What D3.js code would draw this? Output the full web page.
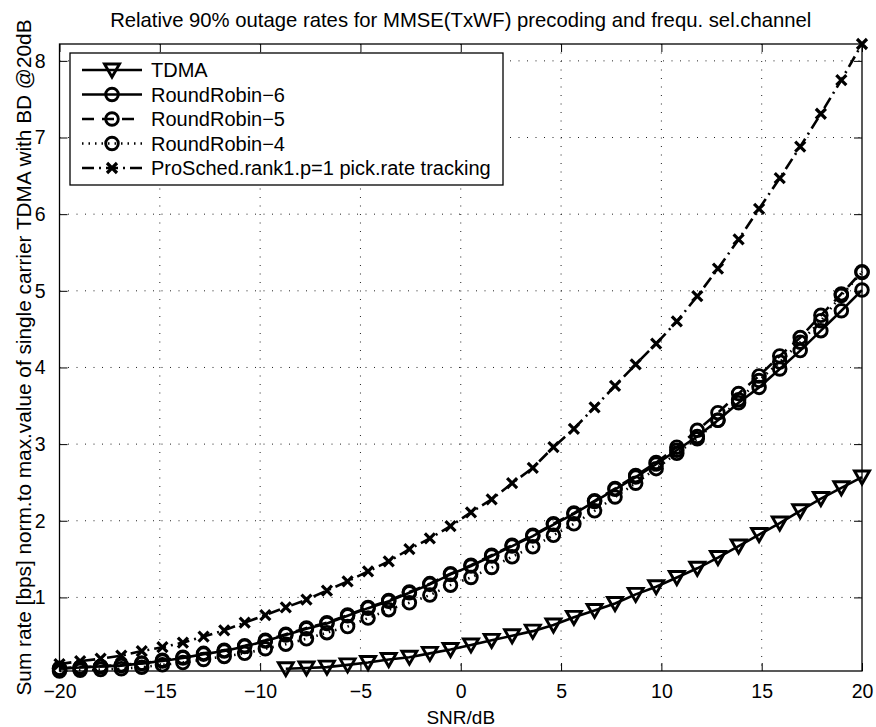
<!DOCTYPE html>
<html>
<head>
<meta charset="utf-8">
<script src="https://cdn.jsdelivr.net/npm/d3@7"></script>
<style>
  body { margin: 0; background: #fff; }
  text { font-family: "Liberation Sans", Arial, Helvetica, sans-serif; fill: #000; }
</style>
</head>
<body>
<script>
// SNR points (dB)
var snr = [-20, -18.97, -17.95, -16.92, -15.90, -14.87, -13.85, -12.82, -11.79, -10.77,
  -9.74, -8.72, -7.69, -6.67, -5.64, -4.62, -3.59, -2.56, -1.54, -0.51,
  0.51, 1.54, 2.56, 3.59, 4.62, 5.64, 6.67, 7.69, 8.72, 9.74,
  10.77, 11.79, 12.82, 13.85, 14.87, 15.90, 16.92, 17.95, 18.97, 20];

// series values (null = not plotted)
var tdma = [null, null, null, null, null, null, null, null, null, null,
  null, 0.07, 0.08, 0.09, 0.12, 0.15, 0.19, 0.22, 0.27, 0.32,
  0.38, 0.44, 0.50, 0.56, 0.64, 0.74, 0.83, 0.92, 1.04, 1.14,
  1.26, 1.38, 1.52, 1.67, 1.82, 1.97, 2.13, 2.29, 2.43, 2.57];

var rr6 = [0.07, 0.085, 0.10, 0.11, 0.14, 0.17, 0.21, 0.26, 0.30, 0.36,
  0.43, 0.51, 0.59, 0.66, 0.76, 0.86, 0.95, 1.06, 1.17, 1.30,
  1.41, 1.54, 1.67, 1.80, 1.95, 2.09, 2.25, 2.41, 2.57, 2.74,
  2.92, 3.10, 3.31, 3.54, 3.74, 3.98, 4.22, 4.48, 4.74, 5.01];

var rr5 = [0.075, 0.09, 0.10, 0.12, 0.14, 0.18, 0.22, 0.27, 0.31, 0.37,
  0.44, 0.52, 0.60, 0.67, 0.77, 0.87, 0.96, 1.07, 1.18, 1.31,
  1.42, 1.55, 1.68, 1.81, 1.96, 2.10, 2.26, 2.42, 2.59, 2.76,
  2.96, 3.18, 3.41, 3.66, 3.89, 4.15, 4.39, 4.68, 4.96, 5.25];

var rr4 = [0.04, 0.05, 0.06, 0.07, 0.09, 0.12, 0.15, 0.19, 0.23, 0.27,
  0.33, 0.39, 0.46, 0.54, 0.62, 0.73, 0.84, 0.93, 1.03, 1.16,
  1.26, 1.39, 1.53, 1.66, 1.81, 1.96, 2.13, 2.31, 2.49, 2.68,
  2.88, 3.07, 3.31, 3.58, 3.83, 4.07, 4.33, 4.61, 4.94, 5.24];

var prosched = [0.13, 0.17, 0.20, 0.24, 0.30, 0.35, 0.41, 0.49, 0.57, 0.67,
  0.77, 0.87, 0.97, 1.09, 1.21, 1.34, 1.47, 1.63, 1.77, 1.93,
  2.11, 2.28, 2.49, 2.69, 2.96, 3.20, 3.48, 3.76, 4.04, 4.31,
  4.60, 4.93, 5.29, 5.67, 6.07, 6.47, 6.88, 7.31, 7.75, 8.22];

var seriesNames = ["TDMA", "RoundRobin\u22126", "RoundRobin\u22125", "RoundRobin\u22124",
  "ProSched.rank1.p=1 pick.rate tracking"];
var xTicks = [-20, -15, -10, -5, 0, 5, 10, 15, 20];
var yTicks = [1, 2, 3, 4, 5, 6, 7, 8];

var titleText = "Relative 90% outage rates for MMSE(TxWF) precoding and frequ. sel.channel";
var xLabel = "SNR/dB";
var yLabel = "Sum rate [bps] norm.to max.value of single carrier TDMA with BD @20dB";

// canvas
var width = 876, height = 727;
var plot = { left: 59.5, right: 862, top: 44, bottom: 671 };

var svg = d3.select("body").append("svg")
  .attr("width", width)
  .attr("height", height);

var x = d3.scaleLinear().domain([-20, 20]).range([plot.left, plot.right]);
var y = d3.scaleLinear().domain([0.04, 8.22]).range([plot.bottom, plot.top]);

// grid
var grid = svg.append("g").attr("class", "grid");
grid.selectAll("line.gx").data(xTicks.slice(1, -1)).enter().append("line")
  .attr("x1", d => x(d)).attr("x2", d => x(d))
  .attr("y1", plot.top).attr("y2", plot.bottom);
grid.selectAll("line.gy").data(yTicks).enter().append("line")
  .attr("x1", plot.left).attr("x2", plot.right)
  .attr("y1", d => y(d)).attr("y2", d => y(d));
grid.selectAll("line")
  .style("stroke", "#222")
  .style("stroke-width", 1)
  .style("stroke-dasharray", "1,7.5");

// axes (ticks inside, box)
var tickLen = 8;
var xAxisB = d3.axisBottom(x).tickValues(xTicks).tickSizeInner(-tickLen).tickSizeOuter(0)
  .tickFormat(d => d < 0 ? "\u2212" + Math.abs(d) : d).tickPadding(13);
var xAxisT = d3.axisTop(x).tickValues(xTicks).tickSizeInner(-tickLen).tickSizeOuter(0).tickFormat("");
var yAxisL = d3.axisLeft(y).tickValues(yTicks).tickSizeInner(-tickLen).tickSizeOuter(0).tickPadding(14);
var yAxisR = d3.axisRight(y).tickValues(yTicks).tickSizeInner(-tickLen).tickSizeOuter(0).tickFormat("");

svg.append("g").attr("transform", "translate(0," + plot.bottom + ")").call(xAxisB);
svg.append("g").attr("transform", "translate(0," + plot.top + ")").call(xAxisT);
svg.append("g").attr("transform", "translate(" + plot.left + ",0)").call(yAxisL);
svg.append("g").attr("transform", "translate(" + plot.right + ",0)").call(yAxisR);

svg.selectAll(".domain").remove();
svg.selectAll(".tick line").style("stroke", "#000").style("stroke-width", 1);
svg.selectAll(".tick text").style("font-size", "19.5px").style("fill", "#000")
  .style("font-family", "'Liberation Sans', Arial, sans-serif");

svg.append("rect")
  .attr("x", plot.left).attr("y", plot.top)
  .attr("width", plot.right - plot.left).attr("height", plot.bottom - plot.top)
  .style("fill", "none").style("stroke", "#000").style("stroke-width", 1.3);

// markers
function drawMarker(sel, type) {
  if (type === "tri") {
    sel.append("path").attr("d", "M-7.5,-6L7.5,-6L0,7Z");
  } else if (type === "circle") {
    sel.append("circle").attr("r", 6.3);
  } else if (type === "x") {
    sel.append("path").attr("d", "M-5,-5L5,5M-5,5L5,-5");
  }
}

var series = [
  { name: seriesNames[0], values: tdma, dash: null, marker: "tri" },
  { name: seriesNames[1], values: rr6, dash: null, marker: "circle" },
  { name: seriesNames[2], values: rr5, dash: "12,8", marker: "circle" },
  { name: seriesNames[3], values: rr4, dash: "1.5,5", marker: "circle" },
  { name: seriesNames[4], values: prosched, dash: "12,5,2,5", marker: "x" }
];

var line = d3.line()
  .defined(d => d[1] != null)
  .x(d => x(d[0]))
  .y(d => y(d[1]));

series.forEach(function (s) {
  var pts = snr.map((v, i) => [v, s.values[i]]);
  var g = svg.append("g").attr("class", "series");
  g.append("path")
    .datum(pts)
    .attr("d", line)
    .style("fill", "none")
    .style("stroke", "#000")
    .style("stroke-width", 2.6)
    .style("stroke-dasharray", s.dash);
  g.selectAll("g.m")
    .data(pts.filter(d => d[1] != null))
    .enter().append("g")
    .attr("transform", d => "translate(" + x(d[0]) + "," + y(d[1]) + ")")
    .each(function () { drawMarker(d3.select(this), s.marker); });
  g.selectAll("g g path, g g circle")
    .style("fill", "none")
    .style("stroke", "#000")
    .style("stroke-width", s.marker === "x" ? 3.2 : 2.9);
});

// legend
var leg = svg.append("g").attr("transform", "translate(70,53)");
leg.append("rect")
  .attr("width", 433).attr("height", 132)
  .style("fill", "#fff").style("stroke", "#000").style("stroke-width", 1.3);
series.forEach(function (s, i) {
  var ly = 17 + i * 24.5;
  leg.append("line")
    .attr("x1", 12).attr("x2", 72).attr("y1", ly).attr("y2", ly)
    .style("stroke", "#000").style("stroke-width", 2.6)
    .style("stroke-dasharray", s.dash);
  var m = leg.append("g").attr("transform", "translate(42," + ly + ")");
  drawMarker(m, s.marker);
  m.selectAll("path, circle").style("fill", "none").style("stroke", "#000")
    .style("stroke-width", s.marker === "x" ? 3.2 : 2.9);
  leg.append("text")
    .attr("x", 81).attr("y", ly)
    .attr("dy", "0.36em")
    .style("font-size", "20px")
    .text(s.name);
});

// title and labels
svg.append("text")
  .attr("x", (plot.left + plot.right) / 2).attr("y", 27)
  .attr("text-anchor", "middle")
  .style("font-size", "20.3px")
  .text(titleText);

svg.append("text")
  .attr("x", (plot.left + plot.right) / 2).attr("y", 724)
  .attr("text-anchor", "middle")
  .style("font-size", "19px")
  .text(xLabel);

svg.append("text")
  .attr("transform", "translate(31," + ((plot.top + plot.bottom) / 2) + ") rotate(-90)")
  .attr("text-anchor", "middle")
  .style("font-size", "20.8px")
  .text(yLabel);
</script>
</body>
</html>
